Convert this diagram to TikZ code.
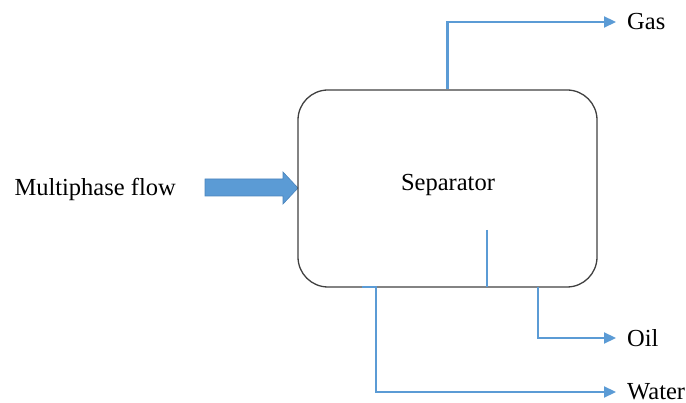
\documentclass[tikz,border=0pt]{standalone}
\usepackage{fontspec}
\setmainfont{Liberation Serif}
\usetikzlibrary{arrows.meta}
\definecolor{pipeblue}{HTML}{5B9BD5}
\definecolor{pipeedge}{HTML}{4A84BC}
\begin{document}
\begin{tikzpicture}[x=1pt,y=-1pt,
  pipe/.style={draw=pipeblue,line width=2.2pt},
  flow/.style={pipe,-{Triangle[length=12pt,width=11pt]},shorten >=11pt},
  lbl/.style={font=\fontsize{24.5}{29}\selectfont,inner sep=0pt,anchor=west}]
\useasboundingbox (0,0) rectangle (686,403);

% inlet block arrow
\filldraw[fill=pipeblue,draw=pipeedge,line width=0.6pt]
  (205,179) -- (283,179) -- (283,172) -- (298,188) -- (283,204) -- (283,196) -- (205,196) -- cycle;

% separator vessel
\node[draw=black!75,line width=1.3pt,rounded corners=30pt,
      minimum width=299pt,minimum height=197pt] (sep) at (447.5,188.5) {};
\node[lbl,anchor=base] (septext) at (448,191) {Separator};

% labels
\node[lbl,anchor=base east] (feed) at (176,196) {Multiphase flow};
\node[lbl] (gas) at (627,22) {Gas};
\node[lbl] (oil) at (627,338) {Oil};
\node[lbl] (water) at (627,392) {Water};

% outlet points on the vessel bottom
\coordinate (oilout) at (538,287);
\coordinate (wstub) at (362,287);
\coordinate (wout) at (376,287);
\coordinate (weirtop) at (487,230);
\coordinate (weirfoot) at (487,287);

% weir
\draw[pipe] (weirtop) -- (weirfoot);

% outlets
\draw[flow] (sep.north) |- (gas.west);
\draw[flow] (oilout) |- (oil.west);
\draw[pipe] (wstub) -- ([xshift=1pt]wout);
\draw[flow] (wout) |- (water.west);
\end{tikzpicture}
\end{document}
